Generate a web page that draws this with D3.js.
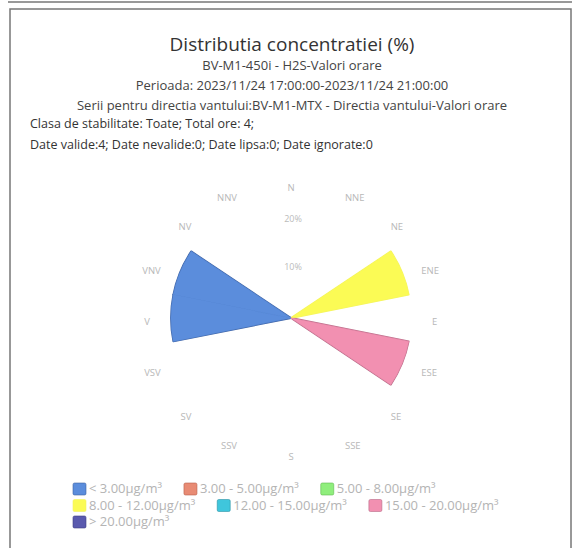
<!DOCTYPE html>
<html>
<head>
<meta charset="utf-8">
<script src="https://cdn.jsdelivr.net/npm/d3@7"></script>
<style>
  body { margin: 0; background: #fff; }
  text { font-family: "Open Sans", sans-serif; }
</style>
</head>
<body>
<div id="chart"></div>
<script>
// Wind directions (Romanian labels)
var directions = ["N", "NNE", "NE", "ENE", "E", "ESE", "SE", "SSE",
                  "S", "SSV", "SV", "VSV", "V", "VNV", "NV", "NNV"];

// Concentration classes
var bins = ["< 3.00µg/m³", "3.00 - 5.00µg/m³", "5.00 - 8.00µg/m³", "8.00 - 12.00µg/m³",
            "12.00 - 15.00µg/m³", "15.00 - 20.00µg/m³", "> 20.00µg/m³"];
var binColors = ["#5b8ddc", "#e88b74", "#8fee7c", "#fbfb55", "#3fc6dc", "#f290b1", "#5a5aae"];
var binStrokes = ["#3d62a3", "#b8604c", "#5fb84e", "#f4f460", "#2c94a6", "#b86a86", "#3c3c80"];

// Frequency (%) per direction for each class
var lt3    = [0, 0, 0, 0, 0, 0, 0, 0, 0, 0, 0, 0, 25, 25, 0, 0];
var c3_5   = [0, 0, 0, 0, 0, 0, 0, 0, 0, 0, 0, 0, 0, 0, 0, 0];
var c5_8   = [0, 0, 0, 0, 0, 0, 0, 0, 0, 0, 0, 0, 0, 0, 0, 0];
var c8_12  = [0, 0, 0, 25, 0, 0, 0, 0, 0, 0, 0, 0, 0, 0, 0, 0];
var c12_15 = [0, 0, 0, 0, 0, 0, 0, 0, 0, 0, 0, 0, 0, 0, 0, 0];
var c15_20 = [0, 0, 0, 0, 0, 25, 0, 0, 0, 0, 0, 0, 0, 0, 0, 0];
var gt20   = [0, 0, 0, 0, 0, 0, 0, 0, 0, 0, 0, 0, 0, 0, 0, 0];
var series = [lt3, c3_5, c5_8, c8_12, c12_15, c15_20, gt20];

// Radial axis ticks
var radialTicks = [10, 20];

var title = "Distributia concentratiei (%)";
var subtitles = ["BV-M1-450i - H2S-Valori orare",
                 "Perioada: 2023/11/24 17:00:00-2023/11/24 21:00:00",
                 "Serii pentru directia vantului:BV-M1-MTX - Directia vantului-Valori orare"];
var infoLines = ["Clasa de stabilitate: Toate; Total ore: 4;",
                 "Date valide:4; Date nevalide:0; Date lipsa:0; Date ignorate:0"];

var W = 580, H = 548;
var cx = 291, cy = 318;

var svg = d3.select("#chart").append("svg")
  .attr("width", W).attr("height", H);

// scanned page frame
svg.append("line").attr("x1", 8).attr("x2", 572).attr("y1", 2).attr("y2", 2)
  .attr("stroke", "#999").attr("stroke-width", 2);
svg.append("rect")
  .attr("x", 10).attr("y", 9).attr("width", 561).attr("height", 560)
  .attr("fill", "none").attr("stroke", "#777").attr("stroke-width", 1.5);

// Titles
svg.append("text").attr("x", 292).attr("y", 51)
  .attr("text-anchor", "middle").style("font-size", "19px").attr("fill", "#333")
  .text(title);
svg.selectAll(".sub").data(subtitles).enter().append("text")
  .attr("class", "sub")
  .attr("x", 292).attr("y", function(d, i) { return 70 + i * 20; })
  .attr("text-anchor", "middle").style("font-size", "13px").attr("fill", "#444")
  .text(function(d) { return d; });
svg.selectAll(".info").data(infoLines).enter().append("text")
  .attr("class", "info")
  .attr("x", 30).attr("y", function(d, i) { return 128 + i * 21; })
  .style("font-size", "12.5px").attr("fill", "#333")
  .text(function(d) { return d; });

// Stack data
var rows = directions.map(function(dir, i) {
  var row = { dir: dir, idx: i };
  bins.forEach(function(b, k) { row[b] = series[k][i]; });
  return row;
});
var stacked = d3.stack().keys(bins)(rows);

var r = d3.scaleLinear().domain([0, 25]).range([0, 120]);
var step = 2 * Math.PI / directions.length;
var arc = d3.arc()
  .innerRadius(function(d) { return r(d[0]); })
  .outerRadius(function(d) { return r(d[1]); })
  .startAngle(function(d) { return d.data.idx * step - step / 2; })
  .endAngle(function(d) { return d.data.idx * step + step / 2; });

var g = svg.append("g").attr("transform", "translate(" + cx + "," + cy + ")");

// radial tick labels
g.selectAll(".rt").data(radialTicks).enter().append("text")
  .attr("x", 2).attr("y", function(d) { return -r(d); })
  .attr("text-anchor", "middle").style("font-size", "9px").attr("fill", "#bbb")
  .text(function(d) { return d + "%"; });

// direction labels
g.selectAll(".dl").data(directions).enter().append("text")
  .attr("x", function(d, i) { return 141 * Math.sin(i * step); })
  .attr("y", function(d, i) { return -134.5 * Math.cos(i * step) + 3.5; })
  .attr("text-anchor", function(d, i) {
    var s = Math.sin(i * step);
    return Math.abs(s) < 0.01 ? "middle" : (s > 0 ? "start" : "end");
  })
  .attr("dominant-baseline", "central")
  .style("font-size", "9.5px").attr("fill", "#b8b8b8")
  .text(function(d) { return d; });

// wedges: outline underlay first, fills on top (no seams between sectors)
var wedges = g.append("g");
stacked.forEach(function(layer, k) {
  wedges.append("g").selectAll("path")
    .data(layer.filter(function(d) { return d[1] > d[0]; }))
    .enter().append("path")
      .attr("d", arc)
      .attr("fill", "none")
      .attr("stroke", binStrokes[k])
      .attr("stroke-width", 1.8)
      .attr("stroke-linejoin", "round");
});
stacked.forEach(function(layer, k) {
  wedges.append("g").selectAll("path")
    .data(layer.filter(function(d) { return d[1] > d[0]; }))
    .enter().append("path")
      .attr("d", arc)
      .attr("fill", binColors[k])
      .attr("stroke", binColors[k])
      .attr("stroke-width", 0.6);
});

// Legend (flow layout)
var leg = svg.append("g");
var lx = 73, ly = 489, maxX = 540;
bins.forEach(function(b, k) {
  var t = leg.append("text").attr("y", ly + 4)
    .style("font-size", "13px").attr("fill", "#b4b4b4").text(b);
  var w = t.node().getComputedTextLength();
  if (lx + 16 + w > maxX) { lx = 73; ly += 16.5; t.attr("y", ly + 4); }
  t.attr("x", lx + 16);
  leg.append("rect").attr("x", lx).attr("y", ly - 6)
    .attr("width", 13).attr("height", 12).attr("rx", 1.5)
    .attr("fill", binColors[k]).attr("stroke", binStrokes[k]).attr("stroke-width", 0.6);
  lx += 16 + w + 22;
});
</script>
</body>
</html>
